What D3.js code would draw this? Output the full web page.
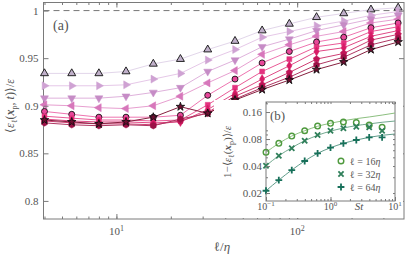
<!DOCTYPE html>
<html><head><meta charset="utf-8">
<script src="https://cdn.jsdelivr.net/npm/d3@7"></script>
<style>
body{margin:0;background:#fff}
svg text{font-family:"Liberation Serif",serif;fill:#555}
</style></head><body>
<script>
// scale separation l/eta (main panel)
var ell = [4, 5.66, 8, 11.3, 16, 22.6, 32, 45.3, 64, 90.5, 128, 181, 256, 362];
// <eps_l(x_p,t)>/eps, one row per Stokes number (light -> dark)
var s1  = [0.934,0.934,0.934,0.936,0.944,0.949,0.959,0.968,0.979,0.986,0.993,0.997,1.001,1.003];
var s2  = [0.921,0.921,0.921,0.922,0.928,0.934,0.948,0.959,0.972,0.978,0.984,0.989,0.995,0.999];
var s3  = [0.908,0.908,0.908,0.910,0.914,0.919,0.936,0.948,0.962,0.970,0.979,0.985,0.991,0.995];
var s4  = [0.901,0.900,0.898,0.897,0.900,0.910,0.924,0.937,0.954,0.964,0.973,0.978,0.987,0.991];
var s5  = [0.894,0.891,0.888,0.888,0.888,0.890,0.911,0.928,0.945,0.957,0.967,0.972,0.982,0.987];
var s6  = [0.889,0.887,0.885,0.885,0.884,0.885,0.901,0.919,0.936,0.949,0.962,0.966,0.978,0.983];
var s7  = [0.886,0.884,0.883,0.883,0.882,0.883,0.896,0.913,0.928,0.942,0.957,0.961,0.973,0.979];
var s8  = [0.884,0.882,0.881,0.881,0.880,0.884,0.893,0.910,0.922,0.935,0.949,0.955,0.969,0.975];
var s9  = [0.882,0.880,0.879,0.880,0.879,0.886,0.892,0.907,0.919,0.930,0.943,0.951,0.964,0.971];
var s10 = [0.885,0.883,0.881,0.883,0.888,0.899,0.892,0.906,0.917,0.927,0.938,0.946,0.959,0.967];
var yTicks = [0.8, 0.85, 0.9, 0.95, 1];

// inset (b)
var st = [0.1, 0.158, 0.251, 0.398, 0.631, 1, 1.585, 2.512, 3.981, 6.31];
var stFit = [0.1, 0.158, 0.251, 0.398, 0.631, 1, 1.585, 2.512, 3.981, 6.31, 10];
var d16 = [0.0569,0.0716,0.0864,0.099,0.1117,0.1197,0.1238,0.122,0.1146,0.108];
var d32 = [0.0403,0.0521,0.063,0.0766,0.0886,0.099,0.1053,0.1097,0.108,0.099];
var d64 = [0.0212,0.0279,0.0361,0.0455,0.0554,0.064,0.0716,0.078,0.0836,0.0836];
var f16 = [0.0569,0.0716,0.0864,0.099,0.111,0.12,0.128,0.135,0.141,0.148,0.156];
var f32 = [0.0403,0.0521,0.064,0.0766,0.088,0.098,0.106,0.113,0.118,0.123,0.127];
var f64 = [0.0212,0.0279,0.0361,0.0455,0.0554,0.064,0.0716,0.078,0.0836,0.088,0.091];
var insetTicks = [0.02, 0.04, 0.08, 0.16];

var w = 407, h = 256;
var svg = d3.select("body").append("svg").attr("width", w).attr("height", h)
  .attr("font-family", "Liberation Serif, serif");
var grey = "#7a7a7a";

var x = d3.scaleLog().domain([3.95, 390]).range([43.5, 404]);
var y = d3.scaleLinear().domain([0.781, 1.0085]).range([219, 2.5]);

// series styles
var series = [
  {v: s1,  fill: "#c0b0ca", line: "#e2d6ea", edge: "#111", sym: "tri", rot: 0},
  {v: s2,  fill: "#cfa2d3", line: "#e6c8e8", edge: null,   sym: "tri", rot: 90},
  {v: s3,  fill: "#c68cc6", line: "#dfb2dc", edge: null,   sym: "tri", rot: 180},
  {v: s4,  fill: "#d777bb", line: "#e79fd0", edge: null,   sym: "tri", rot: 270},
  {v: s5,  fill: "#e8479a", line: "#ee74b0", edge: "#111", sym: "circle"},
  {v: s6,  fill: "#e3327f", line: "#e95b97", edge: null,   sym: "square"},
  {v: s7,  fill: "#d81b66", line: "#e04a86", edge: null,   sym: "diamond"},
  {v: s8,  fill: "#c01457", line: "#cf3f74", edge: null,   sym: "pent"},
  {v: s9,  fill: "#9c1046", line: "#b03763", edge: null,   sym: "hex"},
  {v: s10, fill: "#6e0d30", line: "#86203f", edge: "#111", sym: "star"}
];

function polygon(n, r, off) {
  var p = [];
  for (var i = 0; i < n; i++) {
    var a = off + i * 2 * Math.PI / n;
    p.push([r * Math.sin(a), -r * Math.cos(a)]);
  }
  return "M" + p.join("L") + "Z";
}
function symPath(name) {
  if (name == "tri") return polygon(3, 4.6, 0);
  if (name == "circle") return d3.symbol(d3.symbolCircle, 28)();
  if (name == "square") return d3.symbol(d3.symbolSquare, 24)();
  if (name == "diamond") return d3.symbol(d3.symbolDiamond, 24)();
  if (name == "pent") return polygon(5, 3.4, 0);
  if (name == "hex") return polygon(6, 3.3, 0);
  return d3.symbol(d3.symbolStar, 22)();
}

// frame
svg.append("rect").attr("x", 43.5).attr("y", 2.5).attr("width", 360.5).attr("height", 216.5)
  .attr("fill", "#fff").attr("stroke", grey).attr("stroke-width", 1);

// dashed line at 1
svg.append("line").attr("x1", 43.5).attr("x2", 404).attr("y1", y(1)).attr("y2", y(1))
  .attr("stroke", "#777").attr("stroke-width", 1).attr("stroke-dasharray", "6,4");

// lines + markers
var line = d3.line().x(function(d){ return x(d[0]); }).y(function(d){ return y(d[1]); });
series.forEach(function(s){
  var pts = ell.map(function(l, i){ return [l, s.v[i]]; });
  svg.append("path").datum(pts).attr("d", line).attr("fill", "none")
    .attr("stroke", s.line).attr("stroke-width", 1);
});
series.forEach(function(s){
  var pts = ell.map(function(l, i){ return [l, s.v[i]]; });
  svg.append("g").selectAll("path").data(pts).enter().append("path")
    .attr("d", symPath(s.sym))
    .attr("transform", function(d){ return "translate(" + x(d[0]) + "," + y(d[1]) + ")" + (s.rot ? " rotate(" + s.rot + ")" : ""); })
    .attr("fill", s.fill)
    .attr("stroke", s.edge || s.fill)
    .attr("stroke-width", s.edge ? 0.9 : 0.5);
});

// axes (ticks inward on all sides)
function styleAxis(g) {
  g.attr("font-family", null);
  g.select(".domain").remove();
  g.selectAll("line").attr("stroke", grey);
  g.selectAll("text").attr("fill", "#555").style("font-size", "11px");
}
var xMajor = [10, 100];
var xAll = x.ticks();
svg.append("g").attr("transform", "translate(0,219)")
  .call(d3.axisBottom(x).tickValues(xAll).tickSize(-2.5).tickFormat("")).call(styleAxis);
svg.append("g").attr("transform", "translate(0,219)")
  .call(d3.axisBottom(x).tickValues(xMajor).tickSize(-5).tickFormat("")).call(styleAxis);
svg.append("g").attr("transform", "translate(0,2.5)")
  .call(d3.axisTop(x).tickValues(xAll).tickSize(-2.5).tickFormat("")).call(styleAxis);
svg.append("g").attr("transform", "translate(0,2.5)")
  .call(d3.axisTop(x).tickValues(xMajor).tickSize(-5).tickFormat("")).call(styleAxis);
svg.append("g").attr("transform", "translate(43.5,0)")
  .call(d3.axisLeft(y).tickValues(yTicks).tickSize(-5).tickPadding(5).tickFormat(d3.format(""))).call(styleAxis);
svg.append("g").attr("transform", "translate(404,0)")
  .call(d3.axisRight(y).tickValues(yTicks).tickSize(-5).tickFormat("")).call(styleAxis);

// x tick labels 10^n
xMajor.forEach(function(v){
  var t = svg.append("text").attr("x", x(v)).attr("y", 235).attr("text-anchor", "middle").style("font-size", "11px");
  t.append("tspan").text("10");
  t.append("tspan").attr("dy", -4).style("font-size", "8px").text(Math.round(Math.log10(v)));
});

// axis titles
var xl = svg.append("text").attr("x", 222).attr("y", 251).attr("text-anchor", "middle").style("font-size", "13px");
xl.append("tspan").text("ℓ/");
xl.append("tspan").style("font-style", "italic").text("η");

var yl = svg.append("text").attr("transform", "translate(14,106) rotate(-90)").attr("text-anchor", "middle").style("font-size", "12px");
yl.append("tspan").text("⟨");
yl.append("tspan").style("font-style", "italic").text("ε");
yl.append("tspan").attr("dy", 3).style("font-size", "8px").text("ℓ");
yl.append("tspan").attr("dy", -3).text("(");
yl.append("tspan").style("font-weight", "bold").style("font-style", "italic").text("x");
yl.append("tspan").attr("dy", 3).style("font-size", "8px").text("p");
yl.append("tspan").attr("dy", -3).text(", ");
yl.append("tspan").style("font-style", "italic").text("t");
yl.append("tspan").text(")⟩/");
yl.append("tspan").style("font-style", "italic").text("ε");

svg.append("text").attr("x", 53).attr("y", 30).style("font-size", "14px").text("(a)");

// ---------- inset (b) ----------
var ix = d3.scaleLog().domain([0.1, 10]).range([266, 395]);
var iy = d3.scaleLog().domain([0.0163, 0.207]).range([201, 102]);

svg.append("rect").attr("x", 214).attr("y", 100).attr("width", 189).attr("height", 118).attr("fill", "#fff");
svg.append("rect").attr("x", 266).attr("y", 102).attr("width", 129).attr("height", 99)
  .attr("fill", "#fff").attr("stroke", grey).attr("stroke-width", 1);

var iSets = [
  {d: d16, f: f16, col: "#4f9a3e", lcol: "#8cbf80", sym: "o"},
  {d: d32, f: f32, col: "#2f7f5a", lcol: "#72a88e", sym: "x"},
  {d: d64, f: f64, col: "#17705a", lcol: "#5f9c8a", sym: "+"}
];
var iline = d3.line().curve(d3.curveMonotoneX)
  .x(function(d){ return ix(d[0]); }).y(function(d){ return iy(d[1]); });
iSets.forEach(function(s){
  svg.append("path").datum(stFit.map(function(v, i){ return [v, s.f[i]]; }))
    .attr("d", iline).attr("fill", "none").attr("stroke", s.lcol).attr("stroke-width", 1);
});
function iMark(g, sym, col, cx, cy) {
  if (sym == "o") {
    g.append("circle").attr("cx", cx).attr("cy", cy).attr("r", 2.8)
      .attr("fill", "none").attr("stroke", col).attr("stroke-width", 1.4);
  } else {
    var r = sym == "x" ? 2.6 : 3.4;
    var p = sym == "x"
      ? "M" + (-r) + "," + (-r) + "L" + r + "," + r + "M" + (-r) + "," + r + "L" + r + "," + (-r)
      : "M" + (-r) + ",0L" + r + ",0M0," + (-r) + "L0," + r;
    g.append("path").attr("d", p).attr("transform", "translate(" + cx + "," + cy + ")")
      .attr("stroke", col).attr("stroke-width", 1.8).attr("fill", "none");
  }
}
var ig = svg.append("g");
iSets.forEach(function(s){
  st.forEach(function(v, i){ iMark(ig, s.sym, s.col, ix(v), iy(s.d[i])); });
});

// inset axes
var ixMajor = [0.1, 1, 10];
var ixAll = ix.ticks();
var iyMinor = iy.ticks();
svg.append("g").attr("transform", "translate(0,201)")
  .call(d3.axisBottom(ix).tickValues(ixAll).tickSize(-2).tickFormat("")).call(styleAxis);
svg.append("g").attr("transform", "translate(0,201)")
  .call(d3.axisBottom(ix).tickValues(ixMajor).tickSize(-4).tickFormat("")).call(styleAxis);
svg.append("g").attr("transform", "translate(0,102)")
  .call(d3.axisTop(ix).tickValues(ixAll).tickSize(-2).tickFormat("")).call(styleAxis);
svg.append("g").attr("transform", "translate(266,0)")
  .call(d3.axisLeft(iy).tickValues(iyMinor).tickSize(-2).tickFormat("")).call(styleAxis);
svg.append("g").attr("transform", "translate(266,0)")
  .call(d3.axisLeft(iy).tickValues(insetTicks).tickSize(-4).tickPadding(4).tickFormat(d3.format(".2f"))).call(styleAxis);
svg.append("g").attr("transform", "translate(395,0)")
  .call(d3.axisRight(iy).tickValues(iyMinor).tickSize(-2).tickFormat("")).call(styleAxis);

ixMajor.forEach(function(v){
  var t = svg.append("text").attr("x", ix(v)).attr("y", 210).attr("text-anchor", "middle").style("font-size", "10px");
  t.append("tspan").text("10");
  var e = Math.round(Math.log10(v));
  t.append("tspan").attr("dy", -4).style("font-size", "7px").text(e < 0 ? "−" + (-e) : e);
});
svg.append("text").attr("x", 359).attr("y", 210).attr("text-anchor", "middle")
  .style("font-size", "11px").style("font-style", "italic").text("St");

var iyl = svg.append("text").attr("transform", "translate(231,152) rotate(-90)").attr("text-anchor", "middle").style("font-size", "11px");
iyl.append("tspan").text("1−⟨");
iyl.append("tspan").style("font-style", "italic").text("ε");
iyl.append("tspan").attr("dy", 2.5).style("font-size", "8px").text("ℓ");
iyl.append("tspan").attr("dy", -2.5).text("(");
iyl.append("tspan").style("font-weight", "bold").style("font-style", "italic").text("x");
iyl.append("tspan").attr("dy", 2.5).style("font-size", "8px").text("p");
iyl.append("tspan").attr("dy", -2.5).text(")⟩/");
iyl.append("tspan").style("font-style", "italic").text("ε");

svg.append("text").attr("x", 270).attr("y", 120).style("font-size", "13px").text("(b)");

// inset legend
var labels = ["16", "32", "64"];
iSets.forEach(function(s, i){
  var ly = 161 + i * 13;
  iMark(ig, s.sym, s.col, 341, ly);
  var t = svg.append("text").attr("x", 350).attr("y", ly + 3.5).style("font-size", "10px");
  t.append("tspan").text("ℓ = " + labels[i]);
  t.append("tspan").style("font-style", "italic").text("η");
});
</script></body></html>
